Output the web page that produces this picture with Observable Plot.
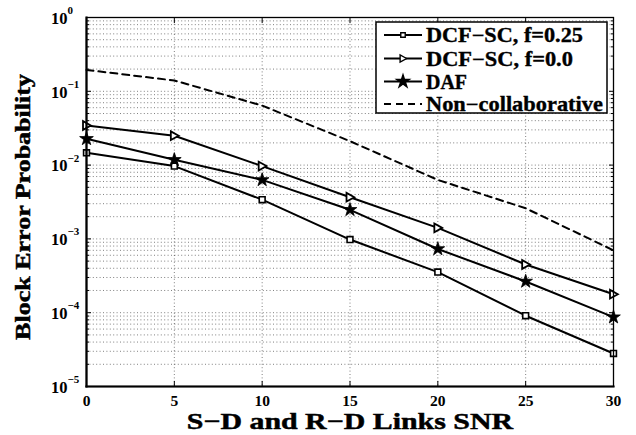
<!DOCTYPE html>
<html>
<head>
<meta charset="utf-8">
<script src="https://cdn.jsdelivr.net/npm/d3@7"></script>
<script src="https://cdn.jsdelivr.net/npm/@observablehq/plot@0.6"></script>
<style>
  html, body { margin: 0; padding: 0; background: #fff; }
  #chart { position: relative; width: 636px; height: 435px; }
</style>
</head>
<body>
<div id="chart"></div>
<script>
// ---- data ----
const snr = [0, 5, 10, 15, 20, 25, 30];
const dcfSc025 = [0.0147, 0.0097, 0.0034, 0.00098, 0.000355, 0.000091, 0.000028];
const dcfSc00 = [0.0344, 0.025, 0.0097, 0.00367, 0.00141, 0.00045, 0.000178];
const daf = [0.0227, 0.0118, 0.0063, 0.00248, 0.00073, 0.000265, 0.000087];
const nonCollab = [0.195, 0.14, 0.064, 0.0211, 0.0063, 0.0026, 0.00070];

const seriesNames = ["DCF\u2212SC, f=0.25", "DCF\u2212SC, f=0.0", "DAF", "Non\u2212collaborative"];
const xTicks = [0, 5, 10, 15, 20, 25, 30];
const yTicks = [1e-5, 1e-4, 1e-3, 1e-2, 1e-1, 1];
const yExponents = ["\u22125", "\u22124", "\u22123", "\u22122", "\u22121", "0"];
const minorMultipliers = [2, 3, 4, 5, 6, 7, 8, 9];
const xLabel = "S\u2212D and R\u2212D Links SNR";
const yLabel = "Block Error Probability";

// ---- build tables ----
const mk = (vals, name) => snr.map((x, i) => ({x, y: vals[i], name}));
const sSq = mk(dcfSc025, seriesNames[0]);
const sTri = mk(dcfSc00, seriesNames[1]);
const sStar = mk(daf, seriesNames[2]);
const sNon = mk(nonCollab, seriesNames[3]);
const yMinor = yTicks.slice(0, -1).flatMap(d => minorMultipliers.map(k => k * d));
const yLabels = yTicks.map((v, i) => ({v, e: yExponents[i]}));

const triRight = {
  draw(ctx, size) {
    const a = Math.sqrt(size) * 0.6;
    ctx.moveTo(a, 0);
    ctx.lineTo(-a * 0.8, -a);
    ctx.lineTo(-a * 0.8, a);
    ctx.closePath();
  }
};

const font = "'Liberation Serif', 'Times New Roman', serif";
const gridStyle = {stroke: "#000", strokeOpacity: 0.5, strokeDasharray: "1,2.4", strokeWidth: 1};
const lineStyle = {x: "x", y: "y", stroke: "#000", strokeWidth: 2};

const plot = Plot.plot({
  width: 636,
  height: 435,
  marginLeft: 86,
  marginRight: 23,
  marginTop: 17,
  marginBottom: 49,
  style: {fontFamily: font, fontWeight: "bold", background: "#fff", color: "#000"},
  x: {domain: [0, 30]},
  y: {type: "log", domain: [1e-5, 1]},
  marks: [
    Plot.gridY(yMinor, gridStyle),
    Plot.gridY(yTicks, gridStyle),
    Plot.gridX(xTicks, gridStyle),
    // inward ticks
    Plot.axisX(xTicks, {tickSize: -5, tickFormat: () => "", label: null, strokeWidth: 1}),
    Plot.axisX(xTicks, {anchor: "top", tickSize: -5, tickFormat: () => "", label: null, strokeWidth: 1}),
    Plot.axisY(yTicks, {tickSize: -5, tickFormat: () => "", label: null, strokeWidth: 1}),
    Plot.axisY(yTicks, {anchor: "right", tickSize: -5, tickFormat: () => "", label: null, strokeWidth: 1}),
    Plot.axisY(yMinor, {tickSize: -3, tickFormat: () => "", label: null, strokeWidth: 1}),
    Plot.axisY(yMinor, {anchor: "right", tickSize: -3, tickFormat: () => "", label: null, strokeWidth: 1}),
    // x tick labels
    Plot.axisX(xTicks, {tickSize: 0, tickPadding: 8, fontSize: 15.5, label: null, tickFormat: d => String(d)}),
    // y tick labels: 10 with superscript exponent
    Plot.text(yLabels, {y: "v", text: () => "10", frameAnchor: "left", dx: -19, dy: 1, textAnchor: "end", lineAnchor: "middle", fontSize: 16.5, fontWeight: "bold"}),
    Plot.text(yLabels, {y: "v", text: "e", frameAnchor: "left", dx: -19, dy: -7, textAnchor: "start", lineAnchor: "middle", fontSize: 11, fontWeight: "bold"}),
    // axis labels
    Plot.text([xLabel], {text: d => d, frameAnchor: "bottom", dy: 35, textAnchor: "middle", lineAnchor: "middle", fontSize: 23, fontWeight: "bold"}),
    Plot.text([yLabel], {text: d => d, frameAnchor: "left", dx: -63, dy: 5, rotate: -90, textAnchor: "middle", lineAnchor: "middle", fontSize: 20, fontWeight: "bold"}),
    // series
    Plot.line(sNon, {...lineStyle, strokeDasharray: "7,5"}),
    Plot.line(sSq, lineStyle),
    Plot.line(sTri, lineStyle),
    Plot.line(sStar, lineStyle),
    Plot.dot(sSq, {x: "x", y: "y", symbol: "square", r: 3.3, stroke: "#000", fill: "#fff", strokeWidth: 1.6}),
    Plot.dot(sTri, {x: "x", y: "y", symbol: triRight, r: 4.1, stroke: "#000", fill: "#fff", strokeWidth: 1.8}),
    Plot.dot(sStar, {x: "x", y: "y", symbol: "star", r: 4.3, stroke: "#000", fill: "#000", strokeWidth: 0.8}),
    Plot.frame({stroke: "#000", strokeWidth: 1.3}),
    Plot.frame({anchor: "left", stroke: "#000", strokeWidth: 2.2}),
    Plot.frame({anchor: "bottom", stroke: "#000", strokeWidth: 2.2})
  ]
});

document.getElementById("chart").appendChild(plot);

// stretch a text element horizontally (along its own direction) to a target length
function stretchTo(el, target) {
  const b = el.getBBox();
  if (!b.width) return;
  const s = target / b.width;
  const cx = b.x + b.width / 2;
  const t = el.getAttribute("transform") || "";
  el.setAttribute("transform", `${t} translate(${cx},0) scale(${s},1) translate(${-cx},0)`);
}

const svg = d3.select(plot);
svg.selectAll("text").each(function () {
  if (this.textContent === xLabel || this.textContent === yLabel) {
    stretchTo(this, this.textContent === xLabel ? 327 : 266);
    this.setAttribute("stroke", "#000");
    this.setAttribute("stroke-width", 0.45);
  }
});

// ---- legend inside the plot area (top-right) ----
const lg = svg.append("g").attr("font-family", font).attr("font-weight", "bold").attr("text-anchor", "start");
const lx = 376, ly = 22, lw = 231, lh = 91;
lg.append("rect").attr("x", lx).attr("y", ly).attr("width", lw).attr("height", lh)
  .attr("fill", "#fff").attr("stroke", "#000").attr("stroke-width", 1.5);
const symbols = [d3.symbol(d3.symbolSquare, 20)(), d3.symbol(triRight, 36)(), d3.symbol(d3.symbolStar, 50)(), null];
const rowY = [35, 58.5, 81.5, 104];
const legendWidths = [157, 147, 41, 177];
seriesNames.forEach((name, i) => {
  const y = rowY[i];
  lg.append("line").attr("x1", 384).attr("x2", 422).attr("y1", y).attr("y2", y)
    .attr("stroke", "#000").attr("stroke-width", 2)
    .attr("stroke-dasharray", i === 3 ? "7,5" : null);
  if (symbols[i]) {
    lg.append("path").attr("d", symbols[i]).attr("transform", `translate(403,${y})`)
      .attr("stroke", "#000").attr("stroke-width", 1.4)
      .attr("fill", i === 2 ? "#000" : "#fff");
  }
  const t = lg.append("text").attr("x", 0).attr("y", 0).attr("dy", "0.35em")
    .attr("text-anchor", "start")
    .attr("font-size", 20).attr("fill", "#000")
    .attr("stroke", "#000").attr("stroke-width", 0.35).text(name);
  const w = t.node().getComputedTextLength();
  t.attr("transform", `translate(426,${y}) scale(${legendWidths[i] / w},1)`);
});
</script>
</body>
</html>
